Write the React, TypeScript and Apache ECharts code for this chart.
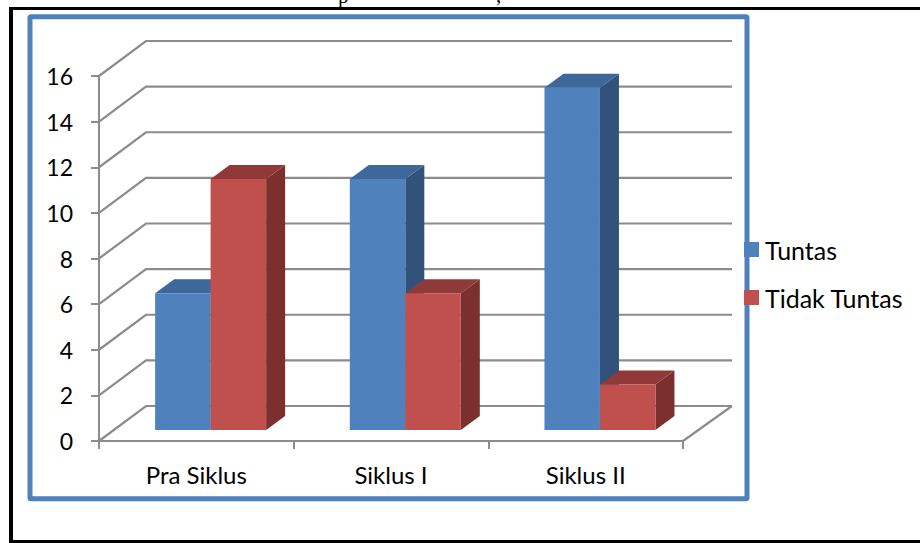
import React, { useEffect, useRef } from "react";
import * as echarts from "echarts";

const categories = ["Pra Siklus", "Siklus I", "Siklus II"];
const tuntas = [6, 11, 15];
const tidakTuntas = [11, 6, 2];
const yTicks = [0, 2, 4, 6, 8, 10, 12, 14, 16];

const FONT = "Lato";
const DX = 47;
const DY = 35;
const BAR = 55.5;
const BAR_DX = 14.3;
const BAR_DY = 11;
const SIDE_DX = 19;
const SIDE_DY = 14;
const LINE = "#8c8c8c";

function box(front: string, top: string, side: string, dir: number) {
  return (params: any, api: any) => {
    const p = api.coord([api.value(0), api.value(1)]);
    const z = api.coord([api.value(0), 0]);
    const yTop = p[1] - BAR_DY;
    const yBot = z[1] - BAR_DY;
    const x0 = p[0] + BAR_DX + (dir < 0 ? -BAR : 0);
    const x1 = x0 + BAR;
    return {
      type: "group",
      children: [
        {
          type: "polygon",
          shape: { points: [[x1, yTop], [x1 + SIDE_DX, yTop - SIDE_DY], [x1 + SIDE_DX, yBot - SIDE_DY], [x1, yBot]] },
          style: { fill: side },
        },
        {
          type: "polygon",
          shape: { points: [[x0, yTop], [x0 + SIDE_DX, yTop - SIDE_DY], [x1 + SIDE_DX, yTop - SIDE_DY], [x1, yTop]] },
          style: { fill: top },
        },
        { type: "rect", shape: { x: x0, y: yTop, width: BAR, height: yBot - yTop }, style: { fill: front } },
      ],
    };
  };
}

function wall(params: any, api: any) {
  const cs = params.coordSys;
  const y = api.coord([0, api.value(1)])[1];
  const stroke = { stroke: LINE, lineWidth: 2.2, fill: "none" };
  const children: any[] = [
    {
      type: "polyline",
      shape: { points: [[cs.x, y], [cs.x + DX, y - DY], [cs.x + cs.width + DX + 2, y - DY]] },
      style: stroke,
    },
  ];
  if (api.value(1) === 0) {
    children.push({
      type: "line",
      shape: { x1: cs.x + cs.width, y1: y, x2: cs.x + cs.width + DX + 2, y2: y - DY },
      style: stroke,
    });
  }
  return { type: "group", children };
}

export default function App() {
  const ref = useRef<HTMLDivElement>(null);
  useEffect(() => {
    const chart = echarts.init(ref.current!, undefined, { renderer: "svg" });
    chart.setOption({
      animation: false,
      backgroundColor: "#ffffff",
      textStyle: { fontFamily: FONT },
      grid: { left: 99, top: 76, width: 584, height: 365, containLabel: false },
      legend: {
        orient: "vertical",
        left: 744,
        top: 237,
        padding: 0,
        itemWidth: 15,
        itemHeight: 15,
        itemGap: 23,
        icon: "rect",
        data: ["Tuntas", "Tidak Tuntas"],
        textStyle: { fontFamily: FONT, fontSize: 25, color: "#000000", padding: [0, 0, 4, 1] },
      },
      xAxis: {
        type: "category",
        data: categories,
        axisLine: { lineStyle: { color: LINE, width: 2 } },
        axisTick: { show: true, alignWithLabel: false, length: 8, lineStyle: { color: LINE, width: 2 } },
        axisLabel: { fontFamily: FONT, fontSize: 24, color: "#000000", margin: 21 },
        splitLine: { show: false },
      },
      yAxis: {
        type: "value",
        min: 0,
        max: 16,
        interval: 2,
        axisLine: { show: true, lineStyle: { color: LINE, width: 2 } },
        axisTick: { show: true, length: 8, lineStyle: { color: LINE, width: 2 } },
        axisLabel: { fontFamily: FONT, fontSize: 23, color: "#000000", margin: 26 },
        splitLine: { show: false },
      },
      graphic: [
        { type: "rect", silent: true, z: -10, shape: { x: 9, y: 7, width: 911, height: 3 }, style: { fill: "#000000" } },
        { type: "rect", silent: true, z: -10, shape: { x: 9, y: 7, width: 4, height: 536 }, style: { fill: "#000000" } },
        { type: "rect", silent: true, z: -10, shape: { x: 9, y: 540, width: 911, height: 3 }, style: { fill: "#000000" } },
        { type: "rect", silent: true, z: -9, shape: { x: 30, y: 16.7, width: 717, height: 482, r: 1 }, style: { fill: "none", stroke: "#4f81bd", lineWidth: 5 } },
        { type: "text", silent: true, z: -8, x: 338, y: -15, style: { text: "p", fontFamily: "Liberation Serif", fontSize: 21, fill: "#000000" } },
        { type: "text", silent: true, z: -8, x: 496, y: -16, style: { text: ",", fontFamily: "Liberation Serif", fontSize: 21, fill: "#000000" } },
      ],
      series: [
        {
          name: "walls",
          type: "custom",
          silent: true,
          z: 1,
          renderItem: wall,
          data: yTicks.map((v) => [0, v]),
          encode: { x: 0, y: 1 },
        },
        {
          name: "Tuntas",
          type: "custom",
          z: 2,
          itemStyle: { color: "#4f81bd" },
          renderItem: box("#4f81bd", "#3f689a", "#31527b", -1),
          data: tuntas.map((v, i) => [i, v]),
          encode: { x: 0, y: 1 },
        },
        {
          name: "Tidak Tuntas",
          type: "custom",
          z: 3,
          itemStyle: { color: "#c0504d" },
          renderItem: box("#c0504d", "#8f3a38", "#7b302e", 1),
          data: tidakTuntas.map((v, i) => [i, v]),
          encode: { x: 0, y: 1 },
        },
      ],
    });
    return () => chart.dispose();
  }, []);
  return (
    <div
      ref={ref}
      style={{ position: "fixed", left: 0, top: 0, width: 920, height: 543 }}
    />
  );
}
